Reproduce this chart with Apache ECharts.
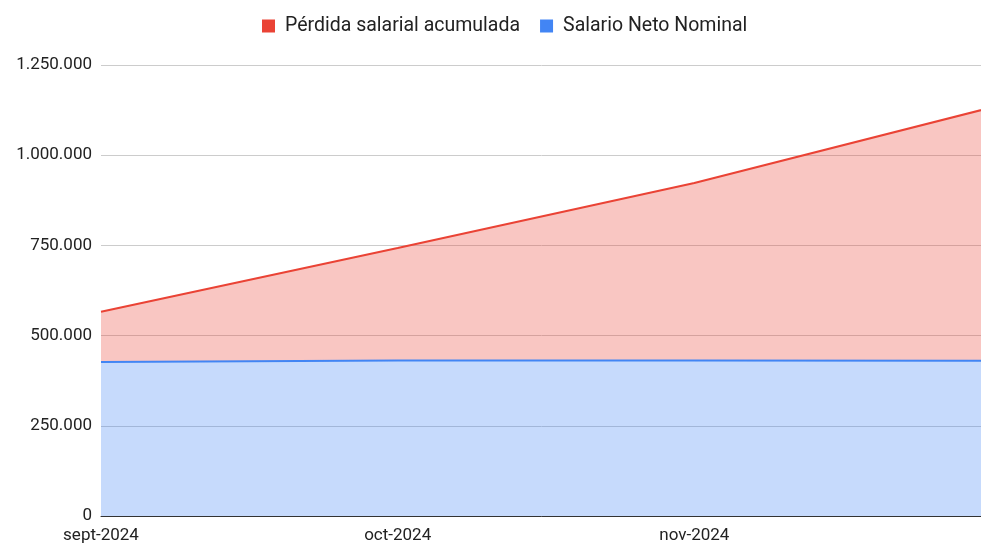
<!DOCTYPE html>
<html>
<head>
<meta charset="utf-8">
<script src="https://cdn.jsdelivr.net/npm/echarts@6/dist/echarts.min.js"></script>
<style>html,body{margin:0;padding:0;background:#fff}#c{width:981px;height:544px}</style>
</head>
<body>
<div id="c"></div>
<script>
const categories = ['sept-2024', 'oct-2024', 'nov-2024', 'dic-2024'];
const salarioNeto = [427000, 431000, 431000, 430000];
const perdida = [139000, 312000, 492000, 702000];
const seriesNames = ['Pérdida salarial acumulada', 'Salario Neto Nominal'];

const fmt = v => String(v).replace(/\B(?=(\d{3})+(?!\d))/g, '.');
const chart = echarts.init(document.getElementById('c'));
chart.setOption({
  animation: false,
  textStyle: { fontFamily: 'Roboto' },
  legend: {
    top: 11, left: 257,
    itemWidth: 13, itemHeight: 13, itemGap: 20,
    icon: 'rect',
    textStyle: { fontSize: 19.5, color: '#222', fontFamily: 'Roboto', padding: [0, 0, 0, 5] },
    data: [seriesNames[0], seriesNames[1]]
  },
  grid: { left: 101, right: -10, top: 65, bottom: 28, containLabel: false, outerBoundsMode: 'none' },
  xAxis: {
    type: 'category', data: categories, boundaryGap: false,
    axisLine: { lineStyle: { color: '#333', width: 1 } },
    axisTick: { show: false },
    axisLabel: { fontSize: 17, color: '#222', margin: 11, fontFamily: 'Roboto', hideOverlap: false,
      interval: 0,
      formatter: (v, i) => (i < categories.length - 1 ? v : '') }
  },
  yAxis: {
    type: 'value', min: 0, max: 1250000, interval: 250000,
    axisLine: { show: false }, axisTick: { show: false },
    splitLine: { lineStyle: { color: '#cccccc' } },
    axisLabel: { fontSize: 17, color: '#222', margin: 9, formatter: fmt, fontFamily: 'Roboto' }
  },
  series: [
    {
      name: seriesNames[1], type: 'line', stack: 'total', data: salarioNeto,
      symbol: 'none', lineStyle: { color: '#4285f4', width: 2 },
      itemStyle: { color: '#4285f4' },
      areaStyle: { color: '#4285f4', opacity: 0.3 }, z: 2
    },
    {
      name: seriesNames[0], type: 'line', stack: 'total', data: perdida,
      symbol: 'none', lineStyle: { color: '#ea4335', width: 2 },
      itemStyle: { color: '#ea4335' },
      areaStyle: { color: '#ea4335', opacity: 0.3 }, z: 2
    }
  ]
});
</script>
</body>
</html>
